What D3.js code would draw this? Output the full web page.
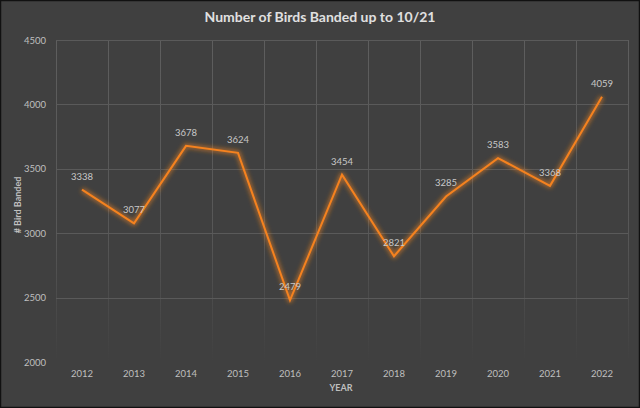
<!DOCTYPE html>
<html><head><meta charset="utf-8">
<script src="https://cdn.jsdelivr.net/npm/d3@7"></script>
<style>html,body{margin:0;padding:0;background:#404040;overflow:hidden}</style>
</head><body>
<svg id="c" width="640" height="408"></svg>
<script>
const years = ["2012","2013","2014","2015","2016","2017","2018","2019","2020","2021","2022"];
const birds = [3338,3077,3678,3624,2479,3454,2821,3285,3583,3368,4059];
const yTicks = [2000,2500,3000,3500,4000,4500];

const W=640,H=408;
const svg=d3.select("#c");
const font="Lato, 'Open Sans', 'DejaVu Sans', sans-serif";
svg.append("rect").attr("x",0.5).attr("y",0.5).attr("width",W-1).attr("height",H-1)
  .attr("fill","#404040").attr("stroke","#111").attr("stroke-width",1.5);

const m={l:56,r:628,t:40,b:362};
const x=d3.scaleBand().domain(years).range([m.l,m.r]);
const y=d3.scaleLinear().domain([2000,4500]).range([m.b,m.t]);

const defs=svg.append("defs");
const grad=defs.append("linearGradient").attr("id","vg").attr("gradientUnits","userSpaceOnUse")
  .attr("x1",0).attr("x2",0).attr("y1",m.t).attr("y2",m.b);
grad.append("stop").attr("offset","0%").attr("stop-color","#5e5e5e");
grad.append("stop").attr("offset","60%").attr("stop-color","#575757");
grad.append("stop").attr("offset","100%").attr("stop-color","#404040");
const glow=defs.append("filter").attr("id","glow").attr("x","-20%").attr("y","-20%").attr("width","140%").attr("height","140%");
glow.append("feGaussianBlur").attr("in","SourceGraphic").attr("stdDeviation",2);

// vertical gridlines (category boundaries)
const bounds=years.map(d=>x(d)).concat([m.r]);
svg.append("g").selectAll("line").data(bounds).join("line")
  .attr("x1",d=>d+0.5).attr("x2",d=>d+0.5).attr("y1",m.t).attr("y2",m.b)
  .attr("stroke","url(#vg)").attr("stroke-width",1);

// horizontal gridlines
svg.append("g").selectAll("line").data(yTicks.filter(t=>t>2000)).join("line")
  .attr("x1",m.l).attr("x2",m.r).attr("y1",d=>Math.round(y(d))+0.5).attr("y2",d=>Math.round(y(d))+0.5)
  .attr("stroke","#5a5a5a").attr("stroke-width",1);

// y axis labels
const ya=svg.append("g").attr("transform",`translate(${m.l-10},0)`)
  .call(d3.axisLeft(y).tickValues(yTicks).tickFormat(d3.format("d")).tickSize(0).tickPadding(0));
ya.select(".domain").remove();
ya.selectAll("text").attr("fill","#bfbfbf").style("font-family",font).style("font-size","9.5px");

// x axis labels
const xa=svg.append("g").attr("transform",`translate(0,${m.b+8})`)
  .call(d3.axisBottom(x).tickSize(0).tickPadding(0));
xa.select(".domain").remove();
xa.selectAll("text").attr("fill","#bfbfbf").style("font-family",font).style("font-size","9.5px").attr("dy","0.7em");

// titles
svg.append("text").attr("x",320).attr("y",22).attr("text-anchor","middle")
  .attr("fill","#e0e0e0").style("font-family",font).style("font-size","14px").style("font-weight","bold")
  .text("Number of Birds Banded up to 10/21");
svg.append("text").attr("x",341).attr("y",391).attr("text-anchor","middle")
  .attr("fill","#bfbfbf").style("font-family",font).style("font-size","9px").style("font-weight","bold")
  .text("YEAR");
svg.append("text").attr("transform","translate(21,205) rotate(-90)").attr("text-anchor","middle")
  .attr("fill","#bfbfbf").style("font-family",font).style("font-size","9px").style("font-weight","bold")
  .text("# Bird Banded");

// line
const cx=d=>x(d)+x.bandwidth()/2;
const line=d3.line().x((d,i)=>cx(years[i])).y(d=>y(d));
svg.append("path").datum(birds).attr("d",line).attr("fill","none")
  .attr("stroke","#ff8a1f").attr("stroke-opacity",0.5).attr("stroke-width",5)
  .attr("stroke-linejoin","round").attr("filter","url(#glow)");
svg.append("path").datum(birds).attr("d",line).attr("fill","none")
  .attr("stroke","#f5821f").attr("stroke-width",2).attr("stroke-linejoin","miter");

// labels
svg.append("g").selectAll("text").data(birds).join("text")
  .attr("x",(d,i)=>cx(years[i])).attr("y",d=>y(d)-10).attr("text-anchor","middle")
  .attr("fill","#c8c8c8").style("font-family",font).style("font-size","9.5px")
  .text(d=>d);
</script>
</body></html>
